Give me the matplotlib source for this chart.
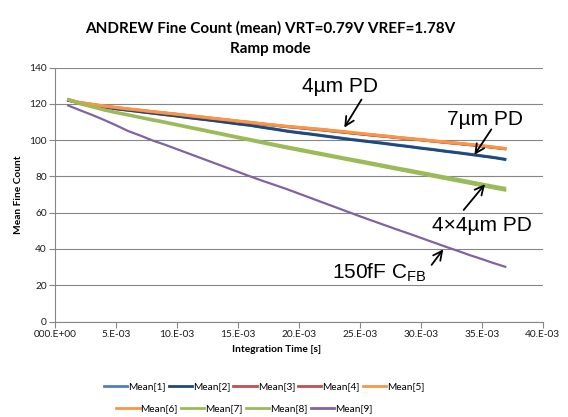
import matplotlib
matplotlib.use("Agg")
from matplotlib import pyplot as plt
from matplotlib.lines import Line2D

plt.rcParams['font.family'] = ['Lato', 'DejaVu Sans']
plt.rcParams['mathtext.default'] = 'regular'

# integration time [ms]
t_ms = list(range(1, 38))

mean1 = [122.2, 120.6, 119.4, 118.3, 117.3, 116.5, 115.7, 114.9, 114.1, 113.3,
         112.4, 111.6, 110.8, 109.9, 109.0, 108.2, 107.2, 106.2, 105.1, 104.2,
         103.4, 102.5, 101.6, 100.7, 99.9, 99.1, 98.3, 97.4, 96.6, 95.7,
         94.9, 94.0, 93.2, 92.3, 91.4, 90.5, 89.4]
mean2 = [122.0, 120.5, 119.3, 118.2, 117.2, 116.4, 115.6, 114.8, 114.0, 113.2,
         112.3, 111.5, 110.7, 109.8, 108.9, 108.1, 107.0, 106.0, 104.9, 104.0,
         103.2, 102.3, 101.4, 100.5, 99.7, 98.9, 98.1, 97.2, 96.4, 95.5,
         94.7, 93.8, 93.0, 92.1, 91.2, 90.3, 89.2]
mean3 = [122.3, 120.6, 119.6, 118.6, 117.8, 117.0, 116.3, 115.5, 114.8, 114.1,
         113.3, 112.6, 111.8, 111.1, 110.3, 109.6, 108.8, 108.1, 107.4, 106.8,
         106.1, 105.5, 104.8, 104.1, 103.4, 102.7, 102.1, 101.4, 100.7, 100.1,
         99.4, 98.7, 98.1, 97.4, 96.7, 95.9, 95.1]
mean4 = [122.4, 120.7, 119.7, 118.7, 117.9, 117.1, 116.4, 115.6, 114.9, 114.2,
         113.4, 112.7, 111.9, 111.2, 110.4, 109.7, 108.9, 108.2, 107.4, 106.8,
         106.1, 105.5, 104.8, 104.1, 103.4, 102.7, 102.1, 101.4, 100.7, 100.1,
         99.4, 98.7, 98.1, 97.4, 96.7, 95.9, 95.1]
mean5 = [122.5, 120.8, 119.8, 118.8, 118.0, 117.2, 116.5, 115.7, 115.0, 114.3,
         113.5, 112.8, 112.0, 111.3, 110.5, 109.8, 109.0, 108.3, 107.6, 107.0,
         106.4, 105.8, 105.1, 104.4, 103.7, 103.0, 102.3, 101.6, 100.9, 100.3,
         99.6, 98.9, 98.3, 97.6, 96.9, 96.1, 95.3]
mean6 = [122.6, 120.9, 119.9, 118.9, 118.1, 117.3, 116.6, 115.8, 115.1, 114.4,
         113.6, 112.9, 112.1, 111.4, 110.6, 109.9, 109.1, 108.4, 107.7, 107.1,
         106.5, 105.9, 105.2, 104.5, 103.8, 103.1, 102.4, 101.7, 101.0, 100.4,
         99.7, 99.0, 98.4, 97.7, 97.0, 96.2, 95.4]
mean7 = [122.5, 120.0, 118.3, 116.5, 115.0, 113.7, 112.3, 110.9, 109.6, 108.2,
         106.8, 105.4, 104.0, 102.6, 101.2, 99.8, 98.4, 97.0, 95.6, 94.3,
         93.0, 91.7, 90.4, 89.1, 87.8, 86.5, 85.2, 83.9, 82.6, 81.3,
         80.0, 78.7, 77.4, 76.1, 74.8, 73.5, 72.2]
mean8 = [122.7, 120.3, 118.6, 116.9, 115.4, 114.1, 112.7, 111.4, 110.1, 108.7,
         107.3, 106.0, 104.6, 103.2, 101.8, 100.5, 99.1, 97.7, 96.4, 95.1,
         93.8, 92.5, 91.2, 89.9, 88.7, 87.4, 86.1, 84.8, 83.6, 82.3,
         81.0, 79.7, 78.5, 77.2, 75.9, 74.6, 73.4]
mean9 = [119.3, 116.6, 114.0, 111.2, 108.2, 105.0, 102.5, 99.8, 97.5, 95.0,
         92.5, 90.0, 87.5, 85.0, 82.5, 80.0, 77.6, 75.3, 73.0, 70.5,
         68.0, 65.5, 63.0, 60.5, 58.0, 55.6, 53.2, 50.8, 48.5, 46.1,
         43.7, 41.3, 39.0, 36.6, 34.4, 32.1, 30.0]

series = [mean1, mean2, mean3, mean4, mean5, mean6, mean7, mean8, mean9]
labels = ['Mean[1]', 'Mean[2]', 'Mean[3]', 'Mean[4]', 'Mean[5]',
          'Mean[6]', 'Mean[7]', 'Mean[8]', 'Mean[9]']
colors = ['#4F81BD', '#1F497D', '#C0504D', '#C0504D', '#F79646',
          '#F79646', '#9BBB59', '#9BBB59', '#8064A2']

x_ticks = [0, 5e-3, 10e-3, 15e-3, 20e-3, 25e-3, 30e-3, 35e-3, 40e-3]
x_ticklabels = ['000.E+00', '5.E-03', '10.E-03', '15.E-03', '20.E-03',
                '25.E-03', '30.E-03', '35.E-03', '40.E-03']
y_ticks = [0, 20, 40, 60, 80, 100, 120, 140]

t = [v * 1e-3 for v in t_ms]

fig = plt.figure(figsize=(5.68, 4.17), dpi=100)
ax = fig.add_axes([0.0968, 0.229, 0.859, 0.609])

for s, c in zip(series, colors):
    lw = 1.6 if c == '#8064A2' else 2.0
    ax.plot(t, s, color=c, lw=lw, solid_capstyle='butt')

ax.set_xlim(0, 0.04)
ax.set_ylim(0, 140)
ax.set_xticks(x_ticks)
ax.set_xticklabels(x_ticklabels)
ax.set_yticks(y_ticks)
ax.tick_params(labelsize=7.3, labelcolor='#1a1a1a', length=4, width=0.8, pad=2,
               color='#868686')
ax.yaxis.grid(True, color='#868686', lw=0.8)
ax.set_axisbelow(True)
for sp in ['top', 'right']:
    ax.spines[sp].set_visible(False)
for sp in ['left', 'bottom']:
    ax.spines[sp].set_color('#868686')
    ax.spines[sp].set_linewidth(0.8)

ax.set_xlabel('Integration Time [s]', fontsize=7.3, fontweight='bold')
ax.xaxis.set_label_coords(0.455, -0.092)
ax.set_ylabel('Mean Fine Count', fontsize=7.3, fontweight='bold')
ax.yaxis.set_label_coords(-0.066, 0.5)

fig.text(0.476, 0.908, 'ANDREW Fine Count (mean) VRT=0.79V VREF=1.78V\nRamp mode',
         ha='center', va='center', fontsize=11, fontweight='bold',
         linespacing=1.6)

# annotations
arrow = dict(arrowstyle='->', color='black', lw=1.3, mutation_scale=16)
afont = dict(family='Liberation Sans', fontsize=15, ha='center', va='center')
ax.annotate('', xy=(0.0236, 105.6), xytext=(0.02525, 123.7), arrowprops=arrow)
ax.text(0.02336, 129.8, '4µm PD', **afont)
ax.annotate('', xy=(0.03426, 90.6), xytext=(0.0359, 107.2), arrowprops=arrow)
ax.text(0.03525, 111.6, '7µm PD', **afont)
ax.annotate('', xy=(0.0354, 76.9), xytext=(0.03336, 60.3), arrowprops=arrow)
ax.text(0.0350, 53.2, '4×4µm PD', **afont)
ax.annotate('', xy=(0.03197, 41.0), xytext=(0.03074, 30.0), arrowprops=arrow)
ax.text(0.02656, 26.7, '150fF C$_{FB}$', **afont)

# legend, two centred rows like Excel
handles = [Line2D([], [], color=c, lw=2) for c in colors]
fig.legend(handles[:5], labels[:5], loc='center', bbox_to_anchor=(0.465, 0.072),
           ncol=5, frameon=False, fontsize=7.3, handlelength=2.3,
           handletextpad=0.1, columnspacing=0.3)
fig.legend(handles[5:], labels[5:], loc='center', bbox_to_anchor=(0.43, 0.020),
           ncol=4, frameon=False, fontsize=7.3, handlelength=2.3,
           handletextpad=0.1, columnspacing=0.3)

fig.savefig('out.png', dpi=100)
